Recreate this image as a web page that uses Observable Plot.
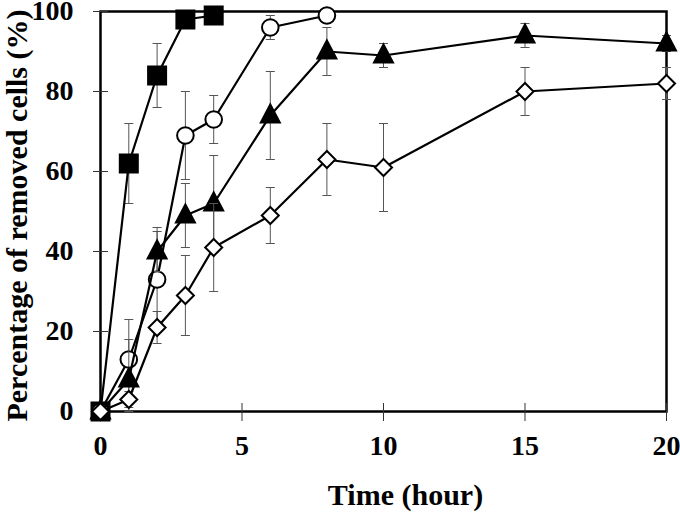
<!DOCTYPE html>
<html>
<head>
<meta charset="utf-8">
<script src="https://cdn.jsdelivr.net/npm/d3@7"></script>
<script src="https://cdn.jsdelivr.net/npm/@observablehq/plot@0.6"></script>
<style>
  html, body { margin: 0; padding: 0; background: #fff; }
</style>
</head>
<body>
<div id="chart"></div>
<script>
// ---- data ----
const xTitle = "Time (hour)";
const yTitle = "Percentage of removed cells (%)";
const xTicks = [0, 5, 10, 15, 20];
const yTicks = [0, 20, 40, 60, 80, 100];

// filled squares
const sqHours = [0, 1, 2, 3, 4];
const sqVal   = [0, 62, 84, 98, 99];
const sqLo    = [0, 52, 76, 98, 99];
const sqHi    = [0, 72, 92, 98, 99];

// open circles
const ciHours = [0, 1, 2, 3, 4, 6, 8];
const ciVal   = [0, 13, 33, 69, 73, 96, 99];
const ciLo    = [0, 3, 21, 58, 67, 93, 99];
const ciHi    = [0, 23, 45, 80, 79, 99, 99];

// filled triangles
const trHours = [0, 1, 2, 3, 4, 6, 8, 10, 15, 20];
const trVal   = [0, 8, 40, 49, 52, 74, 90, 89, 94, 92];
const trLo    = [0, 0, 35, 41, 40, 63, 84, 86, 91, 90];
const trHi    = [0, 18, 46, 57, 64, 85, 96, 92, 97, 94];

// open diamonds
const diHours = [0, 1, 2, 3, 4, 6, 8, 10, 15, 20];
const diVal   = [0, 3, 21, 29, 41, 49, 63, 61, 80, 82];
const diLo    = [0, 1, 17, 19, 30, 42, 54, 50, 74, 78];
const diHi    = [0, 5, 25, 39, 52, 56, 72, 72, 86, 86];

// ---- build tables ----
const rows = (xs, v, lo, hi) => xs.map((x, i) => ({x, y: v[i], lo: lo[i], hi: hi[i]}));
const squares   = rows(sqHours, sqVal, sqLo, sqHi);
const circles   = rows(ciHours, ciVal, ciLo, ciHi);
const triangles = rows(trHours, trVal, trLo, trHi);
const diamonds  = rows(diHours, diVal, diLo, diHi);

// ---- symbols ----
const capSym = {draw(c) { c.moveTo(-4.5, 0); c.lineTo(4.5, 0); }};
const squareSym = {draw(c) { c.moveTo(-9, -9); c.lineTo(9, -9); c.lineTo(9, 9); c.lineTo(-9, 9); c.closePath(); }};
const triSym = {draw(c) { c.moveTo(0, -11); c.lineTo(9.5, 7); c.lineTo(-9.5, 7); c.closePath(); }};
const diaSym = {draw(c) { c.moveTo(0, -8.5); c.lineTo(8.5, 0); c.lineTo(0, 8.5); c.lineTo(-8.5, 0); c.closePath(); }};

const errColor = "#555";
function errorBars(data) {
  const d = data.filter(r => r.hi > r.lo);
  return [
    Plot.ruleX(d, {x: "x", y1: "lo", y2: "hi", stroke: errColor, strokeWidth: 1}),
    Plot.dot(d, {x: "x", y: "lo", symbol: capSym, stroke: errColor, strokeWidth: 1}),
    Plot.dot(d, {x: "x", y: "hi", symbol: capSym, stroke: errColor, strokeWidth: 1})
  ];
}
function series(data, symbol, fill, r) {
  return [
    ...errorBars(data),
    Plot.line(data, {x: "x", y: "y", stroke: "black", strokeWidth: 2.2}),
    Plot.dot(data, {x: "x", y: "y", symbol, r: r || 3, fill, stroke: "black", strokeWidth: 2})
  ];
}

const chart = Plot.plot({
  width: 680,
  height: 515,
  marginLeft: 100,
  marginRight: 14,
  marginTop: 11,
  marginBottom: 104,
  x: {domain: [0, 20]},
  y: {domain: [0, 100]},
  style: {fontFamily: "'Liberation Serif', 'Times New Roman', serif", fontWeight: "bold", fontSize: "28px", color: "black", background: "white"},
  marks: [
    Plot.frame({stroke: "black", strokeWidth: 2.5}),
    Plot.axisX({ticks: xTicks, tickSize: 18, insetBottom: 8, fill: "none", stroke: "#333", label: null}),
    Plot.axisX({ticks: xTicks, tickSize: 0, tickPadding: 24, stroke: "none", label: null, fontSize: 28, fill: "black"}),
    Plot.axisY({ticks: yTicks, tickSize: 15, insetLeft: 8, fill: "none", stroke: "#333", label: null}),
    Plot.axisY({ticks: yTicks, tickSize: 0, tickPadding: 27, stroke: "none", label: null, fontSize: 28, fill: "black"}),
    Plot.text([xTitle], {frameAnchor: "bottom", text: d => d, dx: 22, dy: 84, fontSize: 30, lineAnchor: "middle", textAnchor: "middle", fill: "black"}),
    Plot.text([yTitle], {frameAnchor: "left", text: d => d, rotate: -90, dx: -83, dy: 4, fontSize: 30, lineAnchor: "middle", textAnchor: "middle", fill: "black"}),
    ...series(squares, squareSym, "black"),
    ...series(circles, "circle", "white", 8.3),
    ...series(triangles, triSym, "black"),
    ...series(diamonds, diaSym, "white")
  ]
});
document.getElementById("chart").appendChild(chart);
</script>
</body>
</html>
